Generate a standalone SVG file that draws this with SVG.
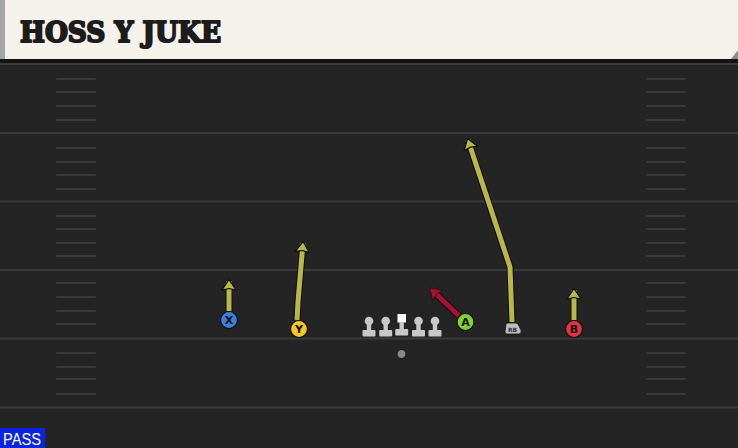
<svg xmlns="http://www.w3.org/2000/svg" width="738" height="448" viewBox="0 0 738 448">
<defs>
<style>
.yl{stroke:#3b3b3b;stroke-width:2}
.hm{stroke:#3a3a3a;stroke-width:2;stroke-linecap:round}
.ro{fill:none;stroke:#0d0d0d;stroke-width:7;stroke-linejoin:round}
.ry{fill:none;stroke:#b9b74c;stroke-width:5;stroke-linejoin:round}
.rr{fill:none;stroke:#a8112f;stroke-width:5;stroke-linejoin:round}
.pc{stroke:#111;stroke-width:1.2}
.pl{font-family:"DejaVu Sans",sans-serif;font-weight:bold;font-size:11px;fill:#111;text-anchor:middle}
.ol{fill:#c8c8c8}
</style>
<marker id="ay" viewBox="-14 -9 16 18" refX="0" refY="0" markerWidth="16" markerHeight="18" orient="auto" markerUnits="userSpaceOnUse">
<path d="M1.5,0 L-9,-7 L-7.5,0 L-9,7 Z" fill="#b9b74c" stroke="#0d0d0d" stroke-width="1.2" stroke-linejoin="round"/>
</marker>
<marker id="ar" viewBox="-14 -9 16 18" refX="0" refY="0" markerWidth="16" markerHeight="18" orient="auto" markerUnits="userSpaceOnUse">
<path d="M1.5,0 L-9,-7 L-7.5,0 L-9,7 Z" fill="#a8112f" stroke="#0d0d0d" stroke-width="0.6" stroke-linejoin="round"/>
</marker>
</defs>
<rect x="0" y="0" width="738" height="448" fill="#242424"/>
<g id="field">
<line class="yl" x1="0" y1="64" x2="738" y2="64"/>
<line class="yl" x1="0" y1="133" x2="738" y2="133"/>
<line class="yl" x1="0" y1="201.5" x2="738" y2="201.5"/>
<line class="yl" x1="0" y1="270" x2="738" y2="270"/>
<line class="yl" x1="0" y1="338.5" x2="738" y2="338.5"/>
<line class="yl" x1="0" y1="407.5" x2="738" y2="407.5"/>
<g id="hash-left">
<line class="hm" x1="57" y1="79" x2="95" y2="79"/><line class="hm" x1="57" y1="92" x2="95" y2="92"/><line class="hm" x1="57" y1="106" x2="95" y2="106"/><line class="hm" x1="57" y1="120" x2="95" y2="120"/>
<line class="hm" x1="57" y1="148" x2="95" y2="148"/><line class="hm" x1="57" y1="162" x2="95" y2="162"/><line class="hm" x1="57" y1="175" x2="95" y2="175"/><line class="hm" x1="57" y1="189" x2="95" y2="189"/>
<line class="hm" x1="57" y1="216" x2="95" y2="216"/><line class="hm" x1="57" y1="229" x2="95" y2="229"/><line class="hm" x1="57" y1="243" x2="95" y2="243"/><line class="hm" x1="57" y1="256" x2="95" y2="256"/>
<line class="hm" x1="57" y1="283" x2="95" y2="283"/><line class="hm" x1="57" y1="297" x2="95" y2="297"/><line class="hm" x1="57" y1="311" x2="95" y2="311"/><line class="hm" x1="57" y1="324" x2="95" y2="324"/>
<line class="hm" x1="57" y1="353" x2="95" y2="353"/><line class="hm" x1="57" y1="367" x2="95" y2="367"/><line class="hm" x1="57" y1="379" x2="95" y2="379"/><line class="hm" x1="57" y1="394" x2="95" y2="394"/>
</g>
<g id="hash-right">
<line class="hm" x1="647" y1="79" x2="685" y2="79"/><line class="hm" x1="647" y1="92" x2="685" y2="92"/><line class="hm" x1="647" y1="106" x2="685" y2="106"/><line class="hm" x1="647" y1="120" x2="685" y2="120"/>
<line class="hm" x1="647" y1="148" x2="685" y2="148"/><line class="hm" x1="647" y1="162" x2="685" y2="162"/><line class="hm" x1="647" y1="175" x2="685" y2="175"/><line class="hm" x1="647" y1="189" x2="685" y2="189"/>
<line class="hm" x1="647" y1="216" x2="685" y2="216"/><line class="hm" x1="647" y1="229" x2="685" y2="229"/><line class="hm" x1="647" y1="243" x2="685" y2="243"/><line class="hm" x1="647" y1="256" x2="685" y2="256"/>
<line class="hm" x1="647" y1="283" x2="685" y2="283"/><line class="hm" x1="647" y1="297" x2="685" y2="297"/><line class="hm" x1="647" y1="311" x2="685" y2="311"/><line class="hm" x1="647" y1="324" x2="685" y2="324"/>
<line class="hm" x1="647" y1="353" x2="685" y2="353"/><line class="hm" x1="647" y1="367" x2="685" y2="367"/><line class="hm" x1="647" y1="379" x2="685" y2="379"/><line class="hm" x1="647" y1="394" x2="685" y2="394"/>
</g>
</g>
<g id="header">
<rect x="0" y="59" width="738" height="4" fill="#141414"/>
<path d="M0,0 H738 V52 L732,59 H0 Z" fill="#f5f2eb"/>
<path d="M738,50 V59 H731 Z" fill="#8a8f96"/>
<rect x="0" y="0" width="5" height="59" fill="#a3a6a6"/>
<text x="20" y="42" font-family="'DejaVu Serif',serif" font-weight="bold" font-size="27" fill="#1c1c1c" stroke="#1c1c1c" stroke-width="2" stroke-linejoin="round" textLength="201" lengthAdjust="spacingAndGlyphs">HOSS Y JUKE</text>
</g>
<g id="connectors">
<path class="ro" d="M229,311 L229,288"/>
<path class="ry" d="M229,311 L229,281" marker-end="url(#ay)"/>
<path class="ro" d="M297,320 L298,302 L302.4,250"/>
<path class="ry" d="M297,320 L298,302 L303,243" marker-end="url(#ay)"/>
<path class="ro" d="M459,316 L437,295"/>
<path class="rr" d="M459,316 L431,289" marker-end="url(#ar)"/>
<path class="ro" d="M512,322 L510,267 L470.3,147.5"/>
<path class="ry" d="M512,322 L510,267 L468,140" marker-end="url(#ay)"/>
<path class="ro" d="M574,320 L574,297"/>
<path class="ry" d="M574,320 L574,290" marker-end="url(#ay)"/>
</g>
<g id="line">
<g id="lt"><circle class="ol" cx="369" cy="321" r="4.3"/><rect class="ol" x="366.8" y="321" width="4.4" height="11"/><rect class="ol" x="362.5" y="330" width="13" height="6.5" rx="1"/></g>
<g id="lg"><circle class="ol" cx="385.7" cy="321" r="4.3"/><rect class="ol" x="383.5" y="321" width="4.4" height="11"/><rect class="ol" x="379.2" y="330" width="13" height="6.5" rx="1"/></g>
<g id="c"><rect x="397.5" y="314" width="8.5" height="8.5" fill="#ffffff"/><rect class="ol" x="399.5" y="322" width="4.4" height="9"/><rect class="ol" x="395.2" y="329" width="13" height="6.5" rx="1"/></g>
<g id="rg"><circle class="ol" cx="418.5" cy="321" r="4.3"/><rect class="ol" x="416.3" y="321" width="4.4" height="11"/><rect class="ol" x="412" y="330" width="13" height="6.5" rx="1"/></g>
<g id="rt"><circle class="ol" cx="435" cy="321" r="4.3"/><rect class="ol" x="432.8" y="321" width="4.4" height="11"/><rect class="ol" x="428.5" y="330" width="13" height="6.5" rx="1"/></g>
</g>
<g id="qb"><circle cx="401.5" cy="354" r="4.5" fill="#8a8a8a" stroke="#111" stroke-width="1"/></g>
<g id="x"><circle class="pc" cx="229" cy="320" r="8.5" fill="#3d7fe0"/><text class="pl" x="229" y="324">X</text></g>
<g id="y"><circle class="pc" cx="299" cy="329" r="8.5" fill="#f6c623"/><text class="pl" x="299" y="333">Y</text></g>
<g id="a"><circle class="pc" cx="465.5" cy="322" r="8.5" fill="#7fd12f"/><text class="pl" x="465.5" y="326">A</text></g>
<g id="rb"><path d="M506,324 Q506,323 508,323 L516,323 Q518,323 519,326 L521,330 Q522,334 519,334 L507,334 Q505,334 505,332 Z" fill="#bdbdbd" stroke="#111" stroke-width="0.8"/><text x="512.5" y="331.8" font-family="'DejaVu Sans',sans-serif" font-size="6" font-weight="bold" fill="#333" text-anchor="middle">RB</text></g>
<g id="b"><circle class="pc" cx="574" cy="329" r="8.5" fill="#e5323f"/><text class="pl" x="574" y="333">B</text></g>
<g id="pass"><rect x="0" y="428" width="45" height="20" fill="#0a24e0"/><text x="3" y="445" font-family="'Liberation Sans',sans-serif" font-size="16" fill="#ffffff" textLength="38" lengthAdjust="spacingAndGlyphs">PASS</text></g>
</svg>
